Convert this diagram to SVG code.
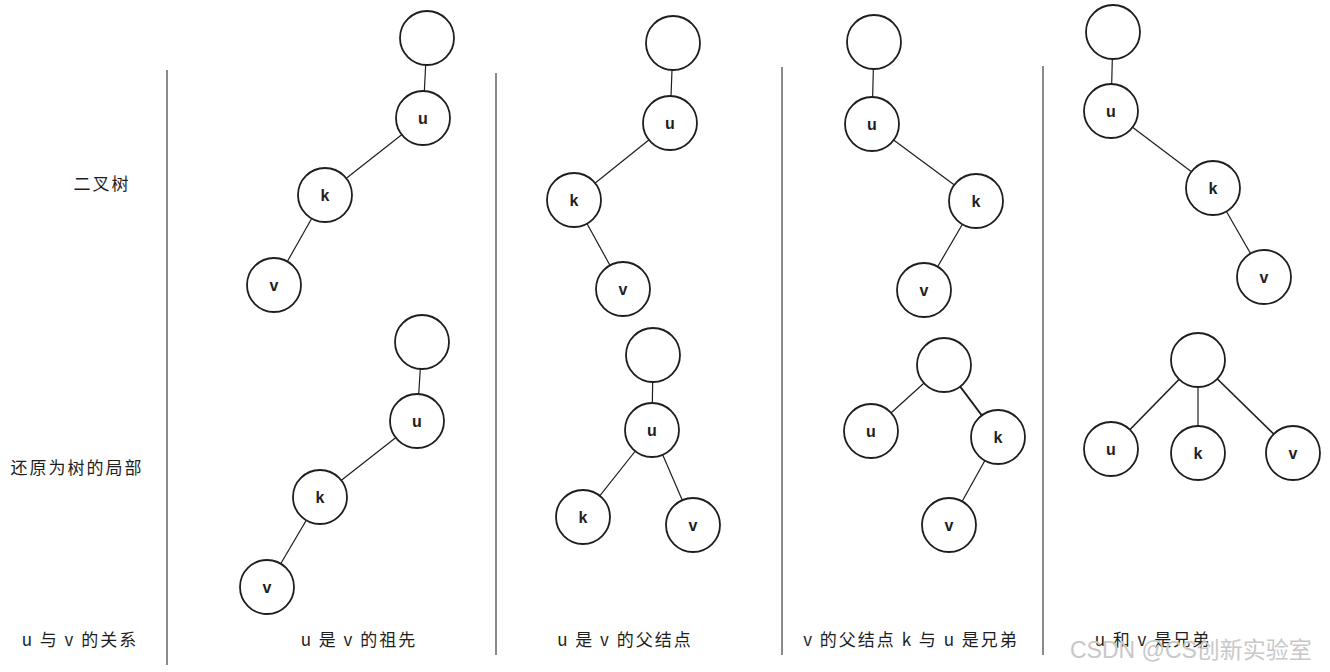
<svg xmlns="http://www.w3.org/2000/svg" width="1330" height="672" viewBox="0 0 1330 672">
<style>
.n{fill:#fff;stroke:#1e1e1e;stroke-width:1.8}
.e{stroke:#1e1e1e;stroke-width:1.2;fill:none}
.d{stroke:#8a8a8a;stroke-width:2}
.t{font-family:"Liberation Sans","Noto Sans CJK SC",sans-serif;font-size:16px;font-weight:bold;fill:#1e1e1e;text-anchor:middle;dominant-baseline:central}
.lb{font-family:"Noto Sans CJK SC","Liberation Sans",sans-serif;font-size:17px;letter-spacing:2px;fill:#1e1e1e;text-anchor:middle;dominant-baseline:central}
.wm{font-family:"Liberation Sans","Noto Sans CJK SC",sans-serif;font-size:23px;fill:#c8c8c8;text-anchor:start;dominant-baseline:central}
</style>
<rect width="1330" height="672" fill="#fff"/>
<g id="dividers">
<line class="d" x1="167" y1="70" x2="167" y2="665"/>
<line class="d" x1="496" y1="73" x2="496" y2="655"/>
<line class="d" x1="782" y1="67" x2="782" y2="655"/>
<line class="d" x1="1043" y1="66" x2="1043" y2="655"/>
</g>
<g id="labels">
<text class="lb" x="102" y="182">二叉树</text>
<text class="lb" x="77" y="466">还原为树的局部</text>
<text class="lb" x="80" y="638">u 与 v 的关系</text>
<text class="lb" x="359" y="638">u 是 v 的祖先</text>
<text class="lb" x="625" y="638">u 是 v 的父结点</text>
<text class="lb" x="911" y="638">v 的父结点 k 与 u 是兄弟</text>
<text class="lb" x="1153" y="638">u 和 v 是兄弟</text>
</g>
<g id="connectors">
<line class="e" x1="427" y1="38" x2="423" y2="118"/>
<line class="e" x1="423" y1="118" x2="325" y2="195"/>
<line class="e" x1="325" y1="195" x2="274" y2="285"/>
<line class="e" x1="422" y1="342" x2="417" y2="421"/>
<line class="e" x1="417" y1="421" x2="320" y2="497"/>
<line class="e" x1="320" y1="497" x2="267" y2="587"/>
<line class="e" x1="673" y1="43" x2="670" y2="123"/>
<line class="e" x1="670" y1="123" x2="574" y2="200"/>
<line class="e" x1="574" y1="200" x2="623" y2="289"/>
<line class="e" x1="653" y1="355" x2="652" y2="430"/>
<line class="e" x1="652" y1="430" x2="583" y2="517"/>
<line class="e" x1="652" y1="430" x2="693" y2="525"/>
<line class="e" x1="874" y1="42" x2="872" y2="124"/>
<line class="e" x1="872" y1="124" x2="976" y2="201"/>
<line class="e" x1="976" y1="201" x2="924" y2="290"/>
<line class="e" x1="944" y1="365" x2="871" y2="431"/>
<line class="e" x1="944" y1="365" x2="998" y2="437" style="stroke-width:2"/>
<line class="e" x1="998" y1="437" x2="949" y2="525"/>
<line class="e" x1="1113" y1="32" x2="1111" y2="111"/>
<line class="e" x1="1111" y1="111" x2="1213" y2="188"/>
<line class="e" x1="1213" y1="188" x2="1264" y2="277"/>
<line class="e" x1="1198" y1="360" x2="1111" y2="449" style="stroke-width:1.6"/>
<line class="e" x1="1198" y1="360" x2="1198" y2="453"/>
<line class="e" x1="1198" y1="360" x2="1293" y2="453" style="stroke-width:1.6"/>
</g>
<g id="c1-top-root"><circle class="n" cx="427" cy="38" r="27"/></g>
<g id="c1-top-u"><circle class="n" cx="423" cy="118" r="27"/><text class="t" x="423" y="118">u</text></g>
<g id="c1-top-k"><circle class="n" cx="325" cy="195" r="27"/><text class="t" x="325" y="195">k</text></g>
<g id="c1-top-v"><circle class="n" cx="274" cy="285" r="27"/><text class="t" x="274" y="285">v</text></g>
<g id="c1-bot-root"><circle class="n" cx="422" cy="342" r="27"/></g>
<g id="c1-bot-u"><circle class="n" cx="417" cy="421" r="27"/><text class="t" x="417" y="421">u</text></g>
<g id="c1-bot-k"><circle class="n" cx="320" cy="497" r="27"/><text class="t" x="320" y="497">k</text></g>
<g id="c1-bot-v"><circle class="n" cx="267" cy="587" r="27"/><text class="t" x="267" y="587">v</text></g>
<g id="c2-top-root"><circle class="n" cx="673" cy="43" r="27"/></g>
<g id="c2-top-u"><circle class="n" cx="670" cy="123" r="27"/><text class="t" x="670" y="123">u</text></g>
<g id="c2-top-k"><circle class="n" cx="574" cy="200" r="27"/><text class="t" x="574" y="200">k</text></g>
<g id="c2-top-v"><circle class="n" cx="623" cy="289" r="27"/><text class="t" x="623" y="289">v</text></g>
<g id="c2-bot-root"><circle class="n" cx="653" cy="355" r="27"/></g>
<g id="c2-bot-u"><circle class="n" cx="652" cy="430" r="27"/><text class="t" x="652" y="430">u</text></g>
<g id="c2-bot-k"><circle class="n" cx="583" cy="517" r="27"/><text class="t" x="583" y="517">k</text></g>
<g id="c2-bot-v"><circle class="n" cx="693" cy="525" r="27"/><text class="t" x="693" y="525">v</text></g>
<g id="c3-top-root"><circle class="n" cx="874" cy="42" r="27"/></g>
<g id="c3-top-u"><circle class="n" cx="872" cy="124" r="27"/><text class="t" x="872" y="124">u</text></g>
<g id="c3-top-k"><circle class="n" cx="976" cy="201" r="27"/><text class="t" x="976" y="201">k</text></g>
<g id="c3-top-v"><circle class="n" cx="924" cy="290" r="27"/><text class="t" x="924" y="290">v</text></g>
<g id="c3-bot-root"><circle class="n" cx="944" cy="365" r="27"/></g>
<g id="c3-bot-u"><circle class="n" cx="871" cy="431" r="27"/><text class="t" x="871" y="431">u</text></g>
<g id="c3-bot-k"><circle class="n" cx="998" cy="437" r="27"/><text class="t" x="998" y="437">k</text></g>
<g id="c3-bot-v"><circle class="n" cx="949" cy="525" r="27"/><text class="t" x="949" y="525">v</text></g>
<g id="c4-top-root"><circle class="n" cx="1113" cy="32" r="27"/></g>
<g id="c4-top-u"><circle class="n" cx="1111" cy="111" r="27"/><text class="t" x="1111" y="111">u</text></g>
<g id="c4-top-k"><circle class="n" cx="1213" cy="188" r="27"/><text class="t" x="1213" y="188">k</text></g>
<g id="c4-top-v"><circle class="n" cx="1264" cy="277" r="27"/><text class="t" x="1264" y="277">v</text></g>
<g id="c4-bot-root"><circle class="n" cx="1198" cy="360" r="27"/></g>
<g id="c4-bot-u"><circle class="n" cx="1111" cy="449" r="27"/><text class="t" x="1111" y="449">u</text></g>
<g id="c4-bot-k"><circle class="n" cx="1198" cy="453" r="27"/><text class="t" x="1198" y="453">k</text></g>
<g id="c4-bot-v"><circle class="n" cx="1293" cy="453" r="27"/><text class="t" x="1293" y="453">v</text></g>
<g id="watermark"><text class="wm" x="1070" y="650">CSDN @CS创新实验室</text></g>
</svg>
